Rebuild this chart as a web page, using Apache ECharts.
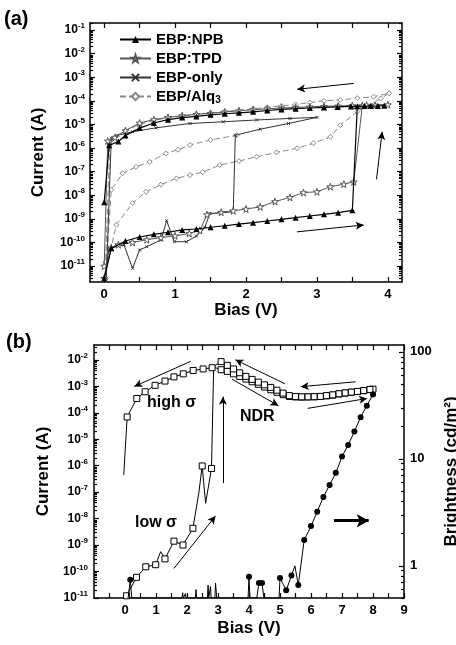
<!DOCTYPE html>
<html><head><meta charset="utf-8">
<script src="https://cdn.jsdelivr.net/npm/echarts@6/dist/echarts.min.js"></script>
<style>html,body{margin:0;padding:0;background:#fff}#c{width:456px;height:645px}</style>
</head><body><div id="c"></div>
<script>
// ================= DATA =================
// Panel (a): I-V loops, [bias V, current A]
const npbIV = [[0.0,3e-12],[0.1,5.6e-11],[0.3,1.15e-10],[0.5,1.7e-10],[0.7,2.2e-10],[0.9,2.7e-10],[1.1,3.4e-10],[1.3,3.7e-10],[1.5,4.4e-10],[1.7,5.1e-10],[1.9,6.0e-10],[2.1,6.9e-10],[2.3,8.1e-10],[2.5,9.5e-10],[2.7,1.12e-9],[2.9,1.32e-9],[3.1,1.55e-9],[3.3,1.82e-9],[3.5,2.3e-9],
  [3.57,5.9e-5],[3.76,6.0e-5],[3.95,6.2e-5],[3.86,6.1e-5],[3.67,6.0e-5],[3.48,5.8e-5],[3.29,5.55e-5],[3.1,5.3e-5],[2.9,5.0e-5],[2.7,4.65e-5],[2.5,4.35e-5],[2.3,3.9e-5],[2.1,3.45e-5],[1.9,3.1e-5],[1.7,2.85e-5],[1.5,2.55e-5],[1.3,2.2e-5],[1.1,1.95e-5],[0.9,1.6e-5],[0.7,1.15e-5],[0.5,7.0e-6],[0.3,3.4e-6],[0.2,1.9e-6],[0.07,1.3e-6],[0.0,5e-9]];
const tpdIV = [[0.0,3e-12],[0.1,6.0e-11],[0.2,8.0e-11],[0.4,1.0e-10],[0.6,1.3e-10],[0.8,1.6e-10],[1.0,1.9e-10],[1.2,2.4e-10],[1.35,3.2e-10],[1.45,1.5e-9],[1.65,1.9e-9],[1.82,2.2e-9],[2.0,2.6e-9],[2.2,3.2e-9],[2.41,5.4e-9],[2.62,8.1e-9],[2.81,1.3e-8],[3.0,1.4e-8],[3.19,2.3e-8],[3.38,2.95e-8],[3.52,3.7e-8],
  [3.64,6.3e-5],[3.82,6.6e-5],[4.0,6.9e-5],[3.7,6.6e-5],[3.5,6.3e-5],[3.3,6.1e-5],[3.1,5.9e-5],[2.9,5.6e-5],[2.7,5.3e-5],[2.5,5.0e-5],[2.3,4.6e-5],[2.1,4.2e-5],[1.9,3.8e-5],[1.7,3.4e-5],[1.5,3.0e-5],[1.3,2.7e-5],[1.1,2.35e-5],[0.9,2.0e-5],[0.7,1.6e-5],[0.5,1.15e-5],[0.3,5.5e-6],[0.15,2.8e-6],[0.05,2.0e-6],[0.0,1e-11]];
const onlyIV = [[0.0,3e-12],[0.07,5.6e-11],[0.2,7e-11],[0.28,7.8e-11],[0.4,8e-12],[0.5,4.8e-11],[0.6,6.6e-11],[0.8,1.26e-10],[0.88,8.3e-10],[0.99,1.07e-10],[1.16,1.07e-10],[1.3,1.86e-10],[1.42,4.4e-10],[1.49,1.7e-9],[1.65,1.8e-9],[1.82,2.0e-9],
  [1.85,3.5e-6],[2.2,6.3e-6],[2.6,1.1e-5],[3.0,2.0e-5],[2.62,1.8e-5],[2.15,1.55e-5],[1.68,1.3e-5],[1.21,1.1e-5],[0.73,7.2e-6],[0.4,4.9e-6],[0.19,3.5e-6],[0.1,2.6e-6],[0.03,3e-12]];
const alqIV = [[0.0,3e-12],[0.17,5.5e-10],[0.4,4.6e-9],[0.59,1.4e-8],[0.8,2.8e-8],[1.02,5.2e-8],[1.21,7.2e-8],[1.39,9.5e-8],[1.63,1.9e-7],[1.9,2.8e-7],[2.15,4.3e-7],[2.43,6.5e-7],[2.72,9.8e-7],[2.95,1.6e-6],[3.19,3.0e-6],[3.33,9.3e-6],[3.57,3.5e-5],[3.71,6.0e-5],[3.9,1.26e-4],[4.02,2.1e-4],
  [3.8,1.5e-4],[3.57,1.3e-4],[3.33,1.1e-4],[3.1,1.0e-4],[2.9,8.5e-5],[2.7,7.0e-5],[2.5,6.2e-5],[2.3,5.3e-5],[2.1,4.6e-5],[1.9,4.0e-5],[1.7,3.5e-5],[1.5,3.1e-5],[1.3,2.7e-5],[1.1,2.3e-5],[0.9,1.9e-5],[0.7,1.5e-5],[0.5,1.0e-5],[0.3,5.5e-6],[0.15,2.8e-6],[0.08,1.9e-6],[0.02,1.5e-11],
  null,
  [0.02,3e-12],[0.1,1.7e-8],[0.26,8.5e-8],[0.45,1.6e-7],[0.64,2.6e-7],[0.87,5.9e-7],[1.04,8.5e-7],[1.21,1.35e-6],[1.5,2.2e-6],[1.87,3.5e-6]];
const legendNames = ['EBP:NPB','EBP:TPD','EBP-only','EBP/Alq3'];
const xTicksA = [0,1,2,3,4];

// Panel (b): [bias V, current A, measured point 1/0]
const curB = [[0.05,1.2e-11,1],[0.37,6.0e-11,1],[0.67,1.5e-10,1],[0.99,1.8e-10,1],[1.15,5.6e-10,0],[1.29,3.0e-10,1],[1.58,1.4e-9,1],[1.87,1.0e-9,1],[2.19,4.3e-9,1],[2.38,9.0e-8,0],[2.49,9.8e-7,1],[2.6,3.8e-8,0],[2.79,7.9e-7,1],[2.86,5.4e-3,0],
  [3.1,4.3e-3,1],[3.3,3.7e-3,1],[3.5,3.0e-3,1],[3.7,2.4e-3,1],[3.9,1.9e-3,1],[4.1,1.5e-3,1],[4.3,1.2e-3,1],[4.5,9.5e-4,1],[4.7,7.5e-4,1],[4.9,6.0e-4,1],[5.1,4.9e-4,1],[5.3,4.2e-4,1],[5.5,4.0e-4,1],[5.7,3.95e-4,1],[5.9,4.0e-4,1],[6.1,4.05e-4,1],[6.3,4.15e-4,1],[6.5,4.4e-4,1],[6.7,4.7e-4,1],[6.9,5.2e-4,1],[7.1,5.6e-4,1],[7.3,6.0e-4,1],[7.5,6.4e-4,1],[7.7,6.9e-4,1],[7.9,7.6e-4,1],[8.0,7.9e-4,1],
  [7.9,7.7e-4,1],[7.7,7.0e-4,1],[7.5,6.5e-4,1],[7.3,6.1e-4,1],[7.1,5.7e-4,1],[6.9,5.3e-4,1],[6.7,4.8e-4,1],[6.5,4.5e-4,1],[6.3,4.2e-4,1],[6.1,4.1e-4,1],[5.9,4.05e-4,1],[5.7,4.05e-4,1],[5.5,4.15e-4,1],[5.3,4.5e-4,1],[5.1,5.6e-4,1],[4.9,7.2e-4,1],[4.7,9.2e-4,1],[4.5,1.15e-3,1],[4.3,1.45e-3,1],[4.1,1.85e-3,1],[3.9,2.4e-3,1],[3.7,3.3e-3,1],[3.5,4.6e-3,1],[3.3,6.3e-3,1],[3.1,8.7e-3,1],
  [2.81,5.1e-3,1],[2.52,4.6e-3,1],[2.2,4.0e-3,1],[1.88,3.0e-3,1],[1.58,2.3e-3,1],[1.29,1.6e-3,1],[0.97,1.1e-3,1],[0.65,6.3e-4,1],[0.38,3.5e-4,1],[0.07,7.0e-5,1],[-0.04,4.5e-7,0]];
// Brightness [bias V, cd/m2, measured point 1/0]
const briB = [[0.1,0.5,0],[0.17,0.74,1],[0.22,0.5,0],
  [1.84,0.5,0],[1.86,0.56,0],[1.88,0.5,0],[1.93,0.5,0],[1.95,0.55,0],[1.97,0.5,0],
  [2.27,0.5,0],[2.29,0.6,0],[2.31,0.5,0],
  [2.66,0.5,0],[2.68,0.66,0],[2.7,0.5,0],[2.74,0.5,0],[2.76,0.64,0],[2.78,0.5,0],
  [2.9,0.5,0],[2.92,0.69,0],[2.96,0.5,0],
  [3.97,0.5,0],[4.0,0.79,1],[4.03,0.5,0],
  [4.25,0.5,0],[4.32,0.69,1],[4.42,0.69,1],[4.48,0.5,0],
  [4.97,0.5,0],[5.0,0.77,1],[5.2,0.59,1],[5.37,0.81,1],[5.48,1.0,0],[5.59,0.66,1],[5.78,1.74,1],[6.0,2.35,1],[6.2,3.2,1],[6.4,4.4,1],[6.6,5.7,1],[6.8,7.4,1],[7.0,10.5,1],[7.2,13.5,1],[7.4,18,1],[7.6,24.5,1],[7.8,31.4,1],[8.0,40,1]];
const xTicksB = [0,1,2,3,4,5,6,7,8,9];
const briTicks = [1,10,100];

// Sweep-direction arrows: [[x1,y1],[x2,y2]]
const arrowsA = [[[3.52,5.5e-4],[2.72,3.1e-4]],[[2.72,2.8e-10],[3.66,5.5e-10]],[[3.84,4.7e-8],[3.92,4.9e-6]]];
const arrowsB = [[[2.12,8.9e-3],[0.30,1.0e-3]],[[3.16,2.2e-7],[3.16,4.1e-4]],[[5.16,1.26e-3],[3.56,1.02e-2]],[[3.45,1.9e-3],[4.95,1.86e-4]],[[7.44,1.5e-3],[5.67,9.8e-4]],[[5.89,1.48e-4],[7.81,3.5e-4]],[[1.58,1.3e-10],[2.92,1.26e-8]]];
const bigArrowB = [[6.74,8.3e-9],[7.86,8.3e-9]];

// ================= CHART =================
const FF = '"Liberation Sans", Arial, sans-serif';
function dec(a,b){const r=[];for(let e=a;e<=b;e++)r.push(parseFloat('1e'+e));return r;}
function minors(a,b){const r=[];for(let e=a;e<=b;e++)for(let k=2;k<=9;k++)r.push(parseFloat(k+'e'+e));return r;}
function steps(a,b,s){const r=[];for(let v=a;v<=b+1e-9;v+=s)r.push(Math.round(v*100)/100);return r;}
const logLabel = v => '{b|10}{s|' + Math.round(Math.log10(v)) + '}';
const rich = {b:{fontSize:12,fontWeight:'bold',fontFamily:FF,color:'#000'},
              s:{fontSize:8,fontWeight:'bold',fontFamily:FF,color:'#000',padding:[0,0,8,0]}};
const axLine = {show:true,onZero:false,lineStyle:{color:'#000',width:1.5}};
const noLine = {show:false,onZero:false};
const tick = (vals,len) => ({show:true,inside:true,length:len,customValues:vals,lineStyle:{color:'#000',width:1.2}});
const nameStyle = {fontSize:17,fontWeight:'bold',color:'#000',fontFamily:FF};
const lblStyle = {fontSize:13,fontWeight:'bold',color:'#000',fontFamily:FF};

function xAx(g,pos,min,max,tv,lv,name,gap){
  return {type:'value',gridIndex:g,position:pos,min:min,max:max,axisLine:axLine,
    axisTick:tick(tv,5),splitLine:{show:false},
    axisLabel: lv ? Object.assign({customValues:lv,margin:6},lblStyle) : {show:false},
    name: name||'', nameLocation:'middle', nameGap:gap||0, nameTextStyle:nameStyle};
}
function yAx(g,pos,min,max,tv,len,label,name,gap){
  return {type:'log',logBase:10,gridIndex:g,position:pos,min:min,max:max,
    axisLine: len===5 ? axLine : noLine,
    axisTick:tick(tv,len),splitLine:{show:false},minorTick:{show:false},
    axisLabel: label || {show:false},
    name:name||'',nameLocation:'middle',nameGap:gap||0,nameRotate:90,nameTextStyle:nameStyle};
}
const starPath = 'path://M50,0 L61,35 L98,35 L68,57 L79,91 L50,70 L21,91 L32,57 L2,35 L39,35 Z';
const xPath = 'path://M0,0 L10,10 M10,0 L0,10';
const arrowLines = (list,size) => list.map(a => [{coord:a[0],symbol:'none'},{coord:a[1],symbol:'arrow',symbolSize:size}]);
const mlBase = {silent:true,animation:false,label:{show:false},emphasis:{disabled:true}};

const option = {
  animation:false,
  backgroundColor:'#fff',
  textStyle:{fontFamily:FF},
  grid:[{left:90,top:23,width:312,height:259,containLabel:false,outerBoundsMode:'none'},
        {left:94,top:345,width:310,height:253,containLabel:false,outerBoundsMode:'none'}],
  legend:{show:true,orient:'vertical',left:114,top:27,itemWidth:31,itemHeight:9,itemGap:4,selectedMode:false,
    data:legendNames,
    formatter:n => n==='EBP/Alq3' ? 'EBP/Alq{sub|3}' : n,
    textStyle:{fontSize:15,fontWeight:'bold',color:'#000',fontFamily:FF,
      rich:{sub:{fontSize:10,fontWeight:'bold',color:'#000',fontFamily:FF,padding:[8,0,0,0]}}}},
  xAxis:[
    xAx(0,'bottom',-0.2,4.2,steps(0,4,0.5),xTicksA,'Bias (V)',16),
    xAx(0,'top',-0.2,4.2,steps(0,4,0.5),null),
    xAx(1,'bottom',-1,9,steps(-0.5,9,0.5),xTicksB,'Bias (V)',22),
    xAx(1,'top',-1,9,steps(-0.5,9,0.5),null)
  ],
  yAxis:[
    yAx(0,'left',2.1e-12,0.2,dec(-11,-1),5,{customValues:dec(-11,-1),formatter:logLabel,rich:rich,margin:5},'Current (A)',43),
    yAx(0,'left',2.1e-12,0.2,minors(-12,-1),3),
    yAx(0,'right',2.1e-12,0.2,dec(-11,-1),5),
    yAx(0,'right',2.1e-12,0.2,minors(-12,-1),3),
    yAx(1,'left',0.99e-11,0.037,dec(-11,-2),5,{customValues:dec(-11,-2),formatter:logLabel,rich:rich,margin:6},'Current (A)',42),
    yAx(1,'left',0.99e-11,0.037,minors(-11,-2),3),
    yAx(1,'right',0.5,116,briTicks,5,Object.assign({customValues:briTicks,margin:6,formatter:v=>String(Math.round(v))},lblStyle),'Brightness (cd/m²)',34),
    yAx(1,'right',0.5,116,minors(-1,2),3)
  ],
  series:[
    {name:'EBP:NPB',type:'line',xAxisIndex:0,yAxisIndex:0,data:npbIV,symbol:'triangle',symbolSize:6,
     lineStyle:{color:'#000',width:1.2},itemStyle:{color:'#000'},z:5},
    {name:'EBP:TPD',type:'line',xAxisIndex:0,yAxisIndex:0,data:tpdIV,symbol:starPath,symbolSize:7,
     lineStyle:{color:'#555',width:1},itemStyle:{color:'#fff',borderColor:'#555',borderWidth:1},z:4},
    {name:'EBP-only',type:'line',xAxisIndex:0,yAxisIndex:0,data:onlyIV,symbol:xPath,symbolSize:3,
     lineStyle:{color:'#333',width:1},itemStyle:{color:'transparent',borderColor:'#333',borderWidth:1},z:3},
    {name:'EBP/Alq3',type:'line',xAxisIndex:0,yAxisIndex:0,data:alqIV,connectNulls:false,symbol:'diamond',symbolSize:5,
     lineStyle:{color:'#888',width:1,type:[6,3]},itemStyle:{color:'#fff',borderColor:'#888',borderWidth:1},z:2},
    {name:'arrowsA',type:'line',xAxisIndex:0,yAxisIndex:0,data:[],
     markLine:Object.assign({lineStyle:{color:'#000',width:1,type:'solid'},data:arrowLines(arrowsA,[6,8])},mlBase)},
    {name:'Current',type:'line',xAxisIndex:2,yAxisIndex:4,
     data:curB.map(p=>({value:[p[0],p[1]],symbol:p[2]?'rect':'none'})),symbolSize:6,
     lineStyle:{color:'#000',width:1},itemStyle:{color:'#fff',borderColor:'#000',borderWidth:1},z:4},
    {name:'Brightness',type:'line',xAxisIndex:2,yAxisIndex:6,
     data:briB.map(p=>({value:[p[0],p[1]],symbol:p[2]?'circle':'none'})),symbolSize:6,
     lineStyle:{color:'#000',width:1},itemStyle:{color:'#000'},z:5},
    {name:'arrowsB',type:'line',xAxisIndex:2,yAxisIndex:4,data:[],
     markLine:Object.assign({lineStyle:{color:'#000',width:1,type:'solid'},data:arrowLines(arrowsB,[6,8])},mlBase)},
    {name:'arrowB2',type:'line',xAxisIndex:2,yAxisIndex:4,data:[],
     markLine:Object.assign({lineStyle:{color:'#000',width:3,type:'solid'},data:arrowLines([bigArrowB],[10,12])},mlBase)}
  ],
  graphic:[
    {type:'text',left:4,top:9,style:{text:'(a)',font:'bold 20px '+FF,fill:'#000'}},
    {type:'text',left:6,top:332,style:{text:'(b)',font:'bold 20px '+FF,fill:'#000'}},
    {type:'text',left:147,top:395,style:{text:'high σ',font:'bold 16px '+FF,fill:'#000'}},
    {type:'text',left:240,top:409,style:{text:'NDR',font:'bold 16px '+FF,fill:'#000'}},
    {type:'text',left:135,top:515,style:{text:'low σ',font:'bold 16px '+FF,fill:'#000'}}
  ]
};
const chart = echarts.init(document.getElementById('c'),null,{renderer:'canvas'});
chart.setOption(option);
</script></body></html>
